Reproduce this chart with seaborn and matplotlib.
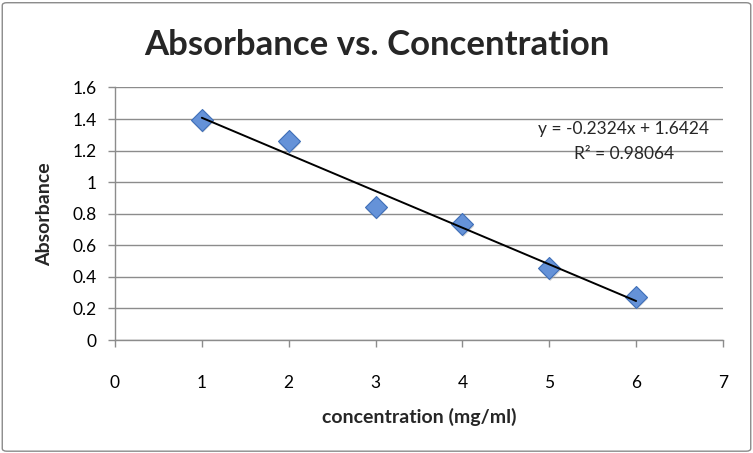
import numpy as np
import pandas as pd
import seaborn as sns
import matplotlib
matplotlib.use("Agg")
import matplotlib.pyplot as plt
from matplotlib.patches import FancyBboxPatch

concentration = [1, 2, 3, 4, 5, 6]
absorbance = [1.395, 1.26, 0.845, 0.735, 0.455, 0.275]
x_ticks = [0, 1, 2, 3, 4, 5, 6, 7]
y_ticks = [0, 0.2, 0.4, 0.6, 0.8, 1.0, 1.2, 1.4, 1.6]
y_tick_labels = ["0", "0.2", "0.4", "0.6", "0.8", "1", "1.2", "1.4", "1.6"]
title = "Absorbance vs. Concentration"
equation = "y = -0.2324x + 1.6424"
r_squared = "R² = 0.98064"

df = pd.DataFrame({"concentration": concentration, "absorbance": absorbance})

sns.set_style("white")
plt.rcParams["font.family"] = ["Lato", "DejaVu Sans"]

fig = plt.figure(figsize=(7.53, 4.53), dpi=100)
ax = fig.add_axes([0.1527, 0.2494, 0.8074, 0.5576])

# outer border
border = FancyBboxPatch((0.003, 0.004), 0.994, 0.990, boxstyle="round,pad=0,rounding_size=0.006",
                        transform=fig.transFigure, facecolor="none", edgecolor="#8a8a8a", linewidth=1.0)
fig.patches.append(border)

# gridlines
ax.set_axisbelow(True)
ax.yaxis.grid(True, color="#8c8c8c", linewidth=1.0)
ax.xaxis.grid(False)

# trendline (least squares fit)
coef = np.polyfit(df["concentration"], df["absorbance"], 1)
xs = np.array([min(concentration), max(concentration)])
ax.plot(xs, np.polyval(coef, xs), color="black", linewidth=1.4, zorder=4)

# shadow of markers
sns.scatterplot(data=df, x="concentration", y="absorbance", ax=ax, marker="D", s=125,
                color="#b0b0b0", edgecolor="none", alpha=0.5, zorder=2,
                transform=ax.transData + matplotlib.transforms.ScaledTranslation(1/100, -2/100, fig.dpi_scale_trans))
sns.scatterplot(data=df, x="concentration", y="absorbance", ax=ax, marker="D", s=125,
                color="#6592d8", edgecolor="#3f6fb8", linewidth=0.8, zorder=3)

ax.set_xlim(0, 7)
ax.set_ylim(0, 1.6)
ax.set_xticks(x_ticks)
ax.set_yticks(y_ticks)
ax.set_yticklabels(y_tick_labels)

for side in ["top", "right"]:
    ax.spines[side].set_visible(False)
for side in ["left", "bottom"]:
    ax.spines[side].set_color("#8c8c8c")
    ax.spines[side].set_linewidth(1.0)

ax.tick_params(axis="x", direction="out", length=5, width=1, color="#8c8c8c", pad=20,
               labelsize=12.5, labelcolor="black", bottom=True)
ax.tick_params(axis="y", direction="out", length=5, width=1, color="#8c8c8c", pad=8,
               labelsize=12.5, labelcolor="black", left=True)

ax.set_xlabel("concentration (mg/ml)", fontsize=14, fontweight="bold", labelpad=12)
ax.set_ylabel("Absorbance", fontsize=14, fontweight="bold", labelpad=14)

fig.text(0.5, 0.90, title, ha="center", va="center", fontsize=25, fontweight="bold")

ax.text(5.86, 1.336, equation, ha="center", va="center", fontsize=12.5)
ax.text(5.86, 1.176, r_squared, ha="center", va="center", fontsize=12.5)

fig.savefig("out.png", dpi=100)
